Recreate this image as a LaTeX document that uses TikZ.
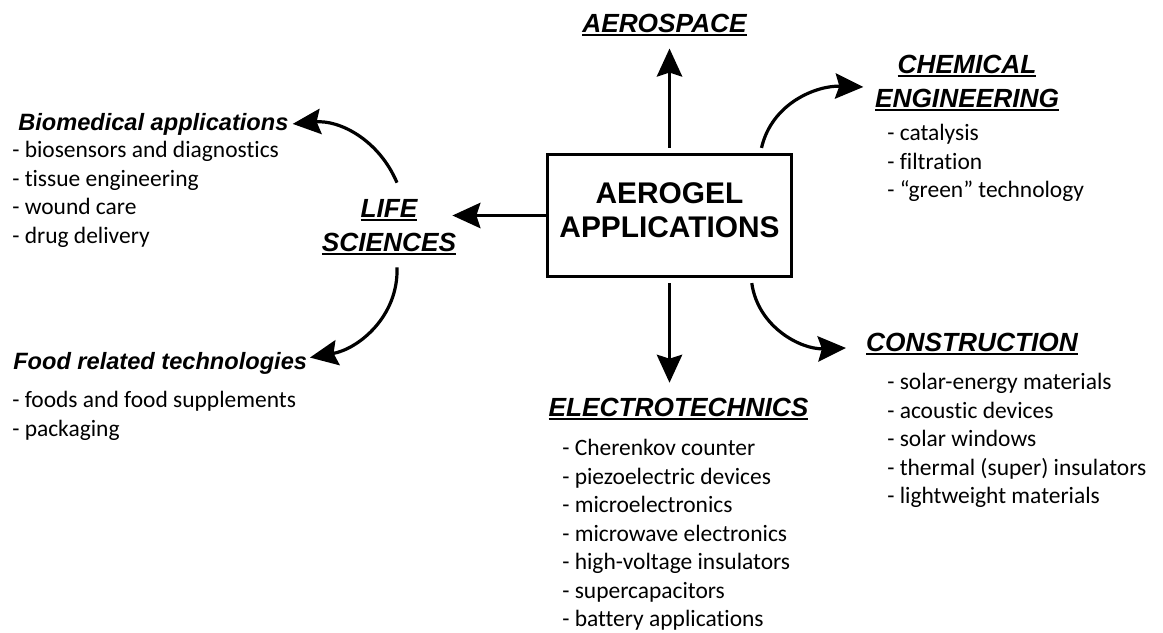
\documentclass[tikz,border=0pt]{standalone}
\usepackage{fontspec}
\setsansfont{Liberation Sans}
\newfontfamily\listfont[Ligatures=NoCommon]{Carlito}
\usetikzlibrary{arrows.meta}

\newsavebox{\ulbox}
\newcommand{\undl}[1]{\sbox{\ulbox}{#1}\rlap{\rule[-3.2pt]{\wd\ulbox}{1.5pt}}\usebox{\ulbox}}

\tikzset{
  head/.style={font=\sffamily\bfseries\itshape\fontsize{19.7}{25.5}\selectfont, inner sep=0pt, align=center, anchor=base},
  subhead/.style={font=\sffamily\bfseries\itshape\fontsize{17.7}{22}\selectfont, inner sep=0pt, anchor=base west},
  items/.style={font=\listfont\fontsize{17.6}{21.4}\selectfont, inner sep=0pt, align=left, anchor=north west},
  link/.style={line width=2.4pt, -{Stealth[length=21pt,width=19pt,inset=3pt]}},
}

\begin{document}
\begin{tikzpicture}[x=0.75pt, y=0.75pt]
\useasboundingbox (0,0) rectangle (1163,-632);

% centre box
\node[draw, line width=2.4pt, minimum width=183pt, minimum height=92pt, align=center, text depth=8pt,
  font=\sffamily\bfseries\fontsize{22.4}{25.5}\selectfont] (box) at (669.5,-215.5) {AEROGEL\\APPLICATIONS};

% fields (base = last line)
\node[head] (aero) at (664.5,-32) {\undl{AEROSPACE}};
\node[head] (chem) at (967,-107) {\undl{CHEMICAL}\\\undl{ENGINEERING}};
\node[head] (life) at (389,-251) {\undl{LIFE}\\\undl{SCIENCES}};
\node[head] (elec) at (678.5,-416) {\undl{ELECTROTECHNICS}};
\node[head] (cons) at (972,-351) {\undl{CONSTRUCTION}};

\node[subhead] (bio) at (18,-130) {Biomedical applications};
\node[subhead] (food) at (13,-369) {Food related technologies};

% lists
\node[items] (biolist) at (12,-141) {- biosensors and diagnostics\\- tissue engineering\\- wound care\\- drug delivery};
\node[items] (foodlist) at (12,-391) {- foods and food supplements\\- packaging};
\node[items] (chemlist) at (887,-124) {- catalysis\\- filtration\\- “green” technology};
\node[items] (eleclist) at (562,-439) {- Cherenkov counter\\- piezoelectric devices\\- microelectronics\\- microwave electronics\\- high-voltage insulators\\- supercapacitors\\- battery applications};
\node[items] (conslist) at (887,-373) {- solar-energy materials\\- acoustic devices\\- solar windows\\- thermal (super) insulators\\- lightweight materials};

% arrows
\draw[link, shorten <=3.5pt, shorten >=9pt] (box.north) -- (box.north |- aero.south);
\draw[link, shorten <=3.5pt, shorten >=11pt] (box.south) -- (box.south |- elec.north);
\draw[link, shorten >=-3pt] (box.west) -- (box.west -| life.east);
\draw[link] ([xshift=-23.7pt,yshift=3.5pt]box.north east) to[out=77,in=178] ([xshift=-8.6pt,yshift=-3pt]chem.west);
\draw[link] ([xshift=-31pt,yshift=-3.5pt]box.south east) to[out=-82,in=182] ([xshift=-15pt,yshift=-3pt]cons.west);
\draw[link] ([xshift=6pt,yshift=12pt]life.north) to[out=113,in=5] ([xshift=3pt]bio.east);
\draw[link] ([xshift=6pt,yshift=-8.8pt]life.south) to[out=-88,in=10] ([xshift=2pt,yshift=4pt]food.east);

\end{tikzpicture}
\end{document}
